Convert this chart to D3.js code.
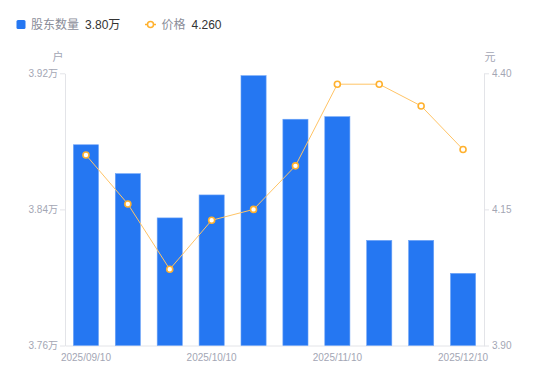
<!DOCTYPE html>
<html>
<head>
<meta charset="utf-8">
<script src="https://cdn.jsdelivr.net/npm/d3@7"></script>
<style>
  html, body { margin: 0; padding: 0; background: #fff; }
  svg { display: block; font-family: "Liberation Sans", Arial, "Noto Sans CJK SC", sans-serif; }
</style>
</head>
<body>
<svg id="chart" width="550" height="381"></svg>
<script>
// ── Data ─────────────────────────────────────────────
const dates       = ['2025/09/10', '2025/09/19', '2025/09/30', '2025/10/10', '2025/10/20',
                     '2025/10/31', '2025/11/10', '2025/11/20', '2025/11/28', '2025/12/10'];
const holders     = [3.878, 3.861, 3.835, 3.8485, 3.9186, 3.893, 3.8945, 3.8218, 3.8218, 3.8024]; // 万户
const prices      = [4.25, 4.16, 4.04, 4.13, 4.15, 4.23, 4.38, 4.38, 4.34, 4.26];               // 元
const xTickLabels = ['2025/09/10', '2025/10/10', '2025/11/10', '2025/12/10'];
const leftTicks   = [3.76, 3.84, 3.92];
const rightTicks  = [3.90, 4.15, 4.40];

const BLUE   = '#2577f2';
const ORANGE = '#ffb12e';
const LINE   = '#ffc466';
const LABEL  = '#a3a6b4';
const AXIS   = '#e3e4e8';

const svg = d3.select('#chart');
const plot = { left: 65, right: 484, top: 73.3, bottom: 345.5 };

// ── Scales ───────────────────────────────────────────
const x = d3.scaleBand().domain(dates).range([plot.left, plot.right]).padding(0);
const yL = d3.scaleLinear().domain([3.76, 3.92]).range([plot.bottom, plot.top]);
const yR = d3.scaleLinear().domain([3.90, 4.40]).range([plot.bottom, plot.top]);
const barW = x.bandwidth() * 0.6;

// ── Legend ───────────────────────────────────────────
const legend = svg.append('g').attr('font-size', 12);
legend.append('rect')
  .attr('x', 16.5).attr('y', 20).attr('width', 9).attr('height', 9).attr('rx', 1.5)
  .attr('fill', BLUE);
legend.append('text').attr('x', 31).attr('y', 29).attr('fill', '#8a8d99').text('股东数量');
legend.append('text').attr('x', 85).attr('y', 29).attr('fill', '#333')
  .text(`${holders[holders.length - 1].toFixed(2)}万`);

legend.append('line')
  .attr('x1', 145).attr('x2', 156).attr('y1', 24.5).attr('y2', 24.5)
  .attr('stroke', ORANGE).attr('stroke-width', 1.5);
legend.append('circle')
  .attr('cx', 150.5).attr('cy', 24.5).attr('r', 3)
  .attr('fill', '#fff').attr('stroke', ORANGE).attr('stroke-width', 1.5);
legend.append('text').attr('x', 161.5).attr('y', 29).attr('fill', '#8a8d99').text('价格');
legend.append('text').attr('x', 191.5).attr('y', 29).attr('fill', '#333')
  .text(prices[prices.length - 1].toFixed(3));

// ── Axes ─────────────────────────────────────────────
const axisStyle = sel => sel
  .call(ax => ax.select('.domain').attr('stroke', AXIS))
  .call(ax => ax.selectAll('.tick line').attr('stroke', AXIS))
  .call(ax => ax.selectAll('text').attr('fill', LABEL).attr('font-size', 10)
    .attr('font-family', '"Liberation Sans", Arial, "Noto Sans CJK SC", sans-serif'));

svg.append('g')
  .attr('transform', `translate(${plot.left},0)`)
  .call(d3.axisLeft(yL).tickValues(leftTicks).tickSize(5).tickSizeOuter(0).tickPadding(2)
    .tickFormat(d => `${d.toFixed(2)}万`))
  .call(axisStyle);

svg.append('g')
  .attr('transform', `translate(${plot.right},0)`)
  .call(d3.axisRight(yR).tickValues(rightTicks).tickSize(5).tickSizeOuter(0).tickPadding(3)
    .tickFormat(d => d.toFixed(2)))
  .call(axisStyle);

svg.append('g')
  .attr('transform', `translate(0,${plot.bottom})`)
  .call(d3.axisBottom(x).tickValues(xTickLabels).tickSize(0).tickSizeOuter(0).tickPadding(8))
  .call(axisStyle);

// Unit labels
svg.append('text').attr('x', 58).attr('y', 61).attr('text-anchor', 'middle')
  .attr('fill', LABEL).attr('font-size', 11).text('户');
svg.append('text').attr('x', 490).attr('y', 61).attr('text-anchor', 'middle')
  .attr('fill', LABEL).attr('font-size', 11).text('元');

// ── Bars ─────────────────────────────────────────────
svg.append('g').selectAll('rect')
  .data(dates)
  .join('rect')
    .attr('x', d => x(d) + (x.bandwidth() - barW) / 2)
    .attr('y', (d, i) => yL(holders[i]))
    .attr('width', barW)
    .attr('height', (d, i) => plot.bottom - yL(holders[i]))
    .attr('fill', BLUE)
    .attr('stroke', '#6ea4f7')
    .attr('stroke-width', 0.6);

// ── Price line ───────────────────────────────────────
const cx = d => x(d) + x.bandwidth() / 2;

svg.append('path')
  .datum(dates)
  .attr('fill', 'none')
  .attr('stroke', LINE)
  .attr('stroke-width', 1)
  .attr('d', d3.line().x(cx).y((d, i) => yR(prices[i])));

svg.append('g').selectAll('circle')
  .data(dates)
  .join('circle')
    .attr('cx', cx)
    .attr('cy', (d, i) => yR(prices[i]))
    .attr('r', 3)
    .attr('fill', '#fff')
    .attr('stroke', ORANGE)
    .attr('stroke-width', 1.6);
</script>
</body>
</html>
